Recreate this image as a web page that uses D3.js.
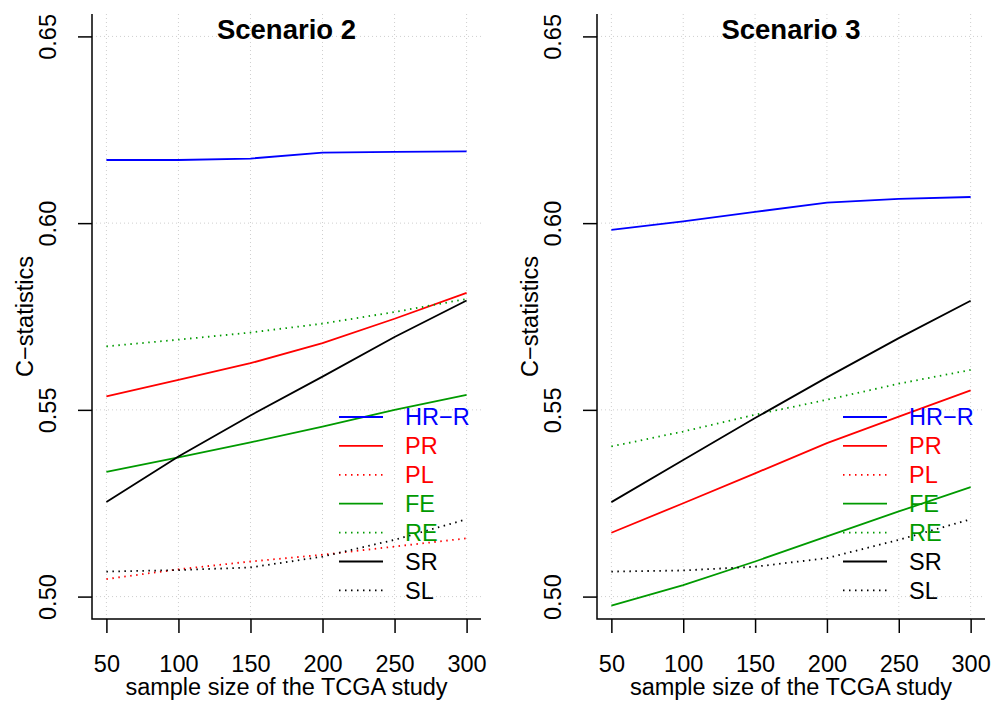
<!DOCTYPE html>
<html>
<head>
<meta charset="utf-8">
<script src="https://cdn.jsdelivr.net/npm/d3@7"></script>
<style>
  body { margin: 0; background: #fff; }
  svg { font-family: "Liberation Sans", Arial, sans-serif; }
</style>
</head>
<body>
<div id="chart"></div>
<script>

// sample sizes on the x axis
var sizes = [50, 100, 150, 200, 250, 300];
var yTicks = [0.50, 0.55, 0.60, 0.65];

var methods = ["HR\u2212R", "PR", "PL", "FE", "RE", "SR", "SL"];
var colors  = ["#0000ff", "#ff0000", "#ff0000", "#009a00", "#009a00", "#000000", "#000000"];
var dotted  = [false, false, true, false, true, false, true];

// Scenario 2 values
var s2HRR = [0.6169, 0.6169, 0.6173, 0.6189, 0.6191, 0.6192];
var s2PR  = [0.5536, 0.5580, 0.5625, 0.5679, 0.5744, 0.5813];
var s2PL  = [0.5047, 0.5073, 0.5094, 0.5112, 0.5134, 0.5156];
var s2FE  = [0.5334, 0.5373, 0.5413, 0.5455, 0.5500, 0.5540];
var s2RE  = [0.5670, 0.5688, 0.5707, 0.5731, 0.5762, 0.5797];
var s2SR  = [0.5253, 0.5375, 0.5485, 0.5589, 0.5695, 0.5793];
var s2SL  = [0.5067, 0.5071, 0.5078, 0.5107, 0.5152, 0.5207];

// Scenario 3 values (PL lies below the plotted range)
var s3HRR = [0.5982, 0.6005, 0.6030, 0.6055, 0.6065, 0.6070];
var s3PR  = [0.5171, 0.5250, 0.5330, 0.5411, 0.5482, 0.5552];
var s3PL  = [];
var s3FE  = [0.4976, 0.5031, 0.5094, 0.5161, 0.5228, 0.5293];
var s3RE  = [0.5402, 0.5442, 0.5487, 0.5527, 0.5570, 0.5607];
var s3SR  = [0.5253, 0.5366, 0.5478, 0.5587, 0.5692, 0.5792];
var s3SL  = [0.5067, 0.5070, 0.5080, 0.5103, 0.5152, 0.5207];

var width = 992, height = 704;
var fs = 23.5;

var svg = d3.select("#chart")
	.append("svg")
	.attr("width", width)
	.attr("height", height);

function drawPanel(left, right, title, series, clipId) {

	var top = 14, bottom = 619;

	var x = d3.scaleLinear().domain([40, 310]).range([left, right]);
	var y = d3.scaleLinear().domain([0.494, 0.656]).range([bottom, top]);

	var g = svg.append("g");

	g.append("clipPath").attr("id", clipId)
		.append("rect")
		.attr("x", left).attr("y", top)
		.attr("width", right - left).attr("height", bottom - top);

	// grid
	g.selectAll(".vgrid")
		.data(sizes)
		.enter().append("line")
		.attr("x1", function(d) { return x(d); })
		.attr("x2", function(d) { return x(d); })
		.attr("y1", top).attr("y2", bottom)
		.attr("stroke", "#cfcfcf")
		.attr("stroke-dasharray", "1,3");

	g.selectAll(".hgrid")
		.data(yTicks)
		.enter().append("line")
		.attr("x1", left).attr("x2", right)
		.attr("y1", function(d) { return y(d); })
		.attr("y2", function(d) { return y(d); })
		.attr("stroke", "#cfcfcf")
		.attr("stroke-dasharray", "1,3");

	// series lines
	var line = d3.line()
		.x(function(d, i) { return x(sizes[i]); })
		.y(function(d) { return y(d); });

	series.forEach(function(vals, k) {
		if (vals.length == 0) return;
		g.append("path")
			.datum(vals)
			.attr("clip-path", "url(#" + clipId + ")")
			.attr("fill", "none")
			.attr("stroke", colors[k])
			.attr("stroke-width", 1.8)
			.attr("stroke-dasharray", dotted[k] ? "1.5,4.5" : null)
			.attr("d", line);
	});

	// x axis
	var xAxis = g.append("g")
		.attr("transform", "translate(0," + bottom + ")")
		.call(d3.axisBottom(x).tickValues(sizes).tickSize(14).tickPadding(22).tickSizeOuter(0));
	xAxis.select(".domain").remove();
	xAxis.selectAll("line").attr("stroke-width", 1.5);
	xAxis.selectAll("text").style("font-size", fs + "px").attr("fill", "#000");

	// y axis
	var yAxis = g.append("g")
		.attr("transform", "translate(" + left + ",0)")
		.call(d3.axisLeft(y).tickValues(yTicks).tickFormat(d3.format(".2f")).tickSize(14).tickSizeOuter(0));
	yAxis.select(".domain").remove();
	yAxis.selectAll("line").attr("stroke-width", 1.5);
	yAxis.selectAll("text")
		.attr("transform", "rotate(-90)")
		.attr("x", 0).attr("y", -36).attr("dy", 0)
		.attr("text-anchor", "middle")
		.attr("fill", "#000")
		.style("font-size", fs + "px");

	// L shaped box
	g.append("path")
		.attr("d", "M" + left + "," + top + "V" + bottom + "H" + right)
		.attr("fill", "none")
		.attr("stroke", "#000")
		.attr("stroke-width", 1.5);

	// title
	g.append("text")
		.attr("x", (left + right) / 2)
		.attr("y", 39)
		.attr("text-anchor", "middle")
		.style("font-size", "27.5px")
		.style("font-weight", "bold")
		.text(title);

	// axis labels
	g.append("text")
		.attr("x", (left + right) / 2)
		.attr("y", 695)
		.attr("text-anchor", "middle")
		.style("font-size", fs + "px")
		.text("sample size of the TCGA study");

	g.append("text")
		.attr("transform", "translate(" + (left - 59) + "," + ((top + bottom) / 2) + ") rotate(-90)")
		.attr("text-anchor", "middle")
		.style("font-size", fs + "px")
		.text("C\u2212statistics");

	// legend
	var lx = right - 142;
	methods.forEach(function(m, k) {
		var ly = 417 + k * 28.9;
		g.append("line")
			.attr("x1", lx).attr("x2", lx + 44)
			.attr("y1", ly).attr("y2", ly)
			.attr("stroke", colors[k])
			.attr("stroke-width", 1.8)
			.attr("stroke-dasharray", dotted[k] ? "1.5,4.5" : null);
		g.append("text")
			.attr("x", lx + 66)
			.attr("y", ly)
			.attr("dy", "0.35em")
			.attr("fill", colors[k])
			.style("font-size", fs + "px")
			.text(m);
	});
}

drawPanel(92, 481, "Scenario 2", [s2HRR, s2PR, s2PL, s2FE, s2RE, s2SR, s2SL], "clip2");
drawPanel(597, 985, "Scenario 3", [s3HRR, s3PR, s3PL, s3FE, s3RE, s3SR, s3SL], "clip3");

</script>
</body>
</html>
